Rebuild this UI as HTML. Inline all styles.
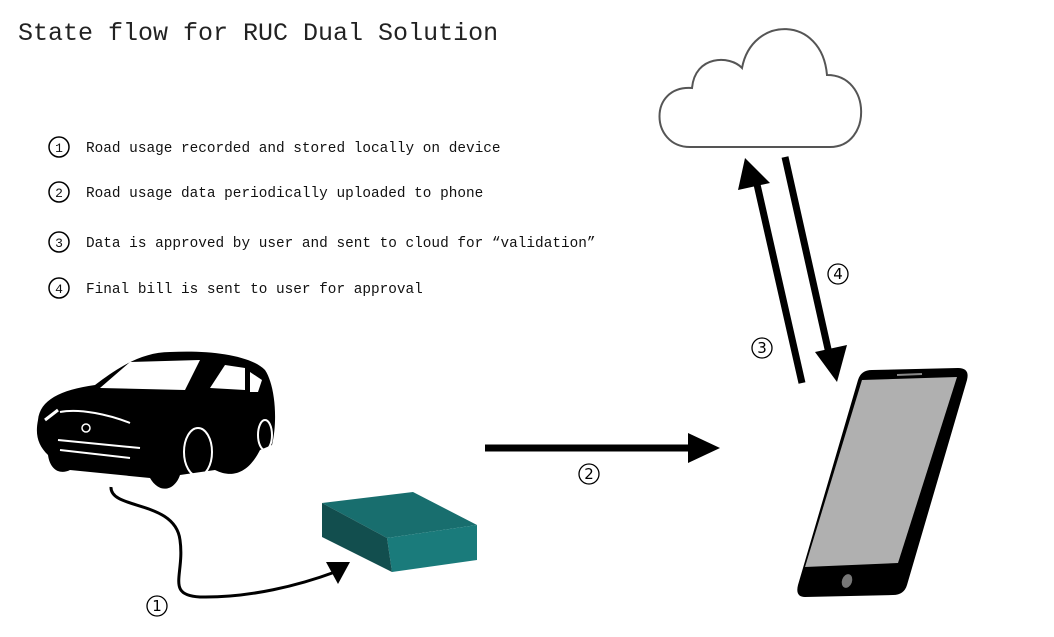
<!DOCTYPE html>
<html><head><style>
body{margin:0;background:#fff;width:1054px;height:632px;overflow:hidden;font-family:"Liberation Mono","DejaVu Sans Mono",monospace;}
</style></head><body>
<svg width="1054" height="632" viewBox="0 0 1054 632" xmlns="http://www.w3.org/2000/svg">
<text x="18" y="40" font-size="25" fill="#222" font-family="Liberation Mono, monospace">State flow for RUC Dual Solution</text>
<g font-size="14.4" fill="#111" font-family="Liberation Mono, monospace">
<circle cx="59" cy="147" r="10" fill="none" stroke="#000" stroke-width="1.5"/><text x="59" y="152" font-size="13" text-anchor="middle">1</text>
<text x="86" y="152">Road usage recorded and stored locally on device</text>
<circle cx="59" cy="192" r="10" fill="none" stroke="#000" stroke-width="1.5"/><text x="59" y="197" font-size="13" text-anchor="middle">2</text>
<text x="86" y="197">Road usage data periodically uploaded to phone</text>
<circle cx="59" cy="242" r="10" fill="none" stroke="#000" stroke-width="1.5"/><text x="59" y="247" font-size="13" text-anchor="middle">3</text>
<text x="86" y="247">Data is approved by user and sent to cloud for “validation”</text>
<circle cx="59" cy="288" r="10" fill="none" stroke="#000" stroke-width="1.5"/><text x="59" y="293" font-size="13" text-anchor="middle">4</text>
<text x="86" y="293">Final bill is sent to user for approval</text>
</g>
<!-- cloud -->
<path d="M690,147 C650,147 648,85 692,88 C695,55 730,55 742,68 C752,15 822,15 827,75 C872,75 872,147 830,147 Z" fill="#fff" stroke="#555" stroke-width="2"/>
<!-- arrows 3,4 -->
<line x1="802" y1="383" x2="756" y2="180" stroke="#000" stroke-width="7"/>
<polygon points="745,158 738,190 770,183" fill="#000"/>
<line x1="785" y1="157" x2="830" y2="358" stroke="#000" stroke-width="7"/>
<polygon points="837,382 815,352 847,345" fill="#000"/>
<g font-size="15" text-anchor="middle" font-family="DejaVu Sans, sans-serif">
<circle cx="838" cy="274" r="10" fill="none" stroke="#000" stroke-width="1.3"/><text x="838" y="279">4</text>
<circle cx="762" cy="348" r="10" fill="none" stroke="#000" stroke-width="1.3"/><text x="762" y="353">3</text>
<circle cx="589" cy="474" r="10" fill="none" stroke="#000" stroke-width="1.3"/><text x="589" y="479">2</text>
<circle cx="157" cy="606" r="10" fill="none" stroke="#000" stroke-width="1.3"/><text x="157" y="611">1</text>
</g>
<!-- arrow 2 -->
<line x1="485" y1="448" x2="690" y2="448" stroke="#000" stroke-width="7"/>
<polygon points="720,448 688,433 688,463" fill="#000"/>
<!-- phone -->
<path d="M872,370 L958,368 Q970,368 967,380 L907,585 Q904,595 893,595 L805,597 Q795,597 798,585 L858,380 Q861,370 872,370 Z" fill="#000"/>
<path d="M862,380 L957,377 L898,563 L805,567 Z" fill="#b0b0b0"/>
<line x1="897" y1="375" x2="922" y2="374" stroke="#888" stroke-width="2"/>
<ellipse cx="847" cy="581" rx="5" ry="7" transform="rotate(20 847 581)" fill="#777"/>
<!-- wire -->
<path d="M111,487 C110,510 175,500 180,540 C185,575 165,595 200,597 C250,598 300,585 335,572" fill="none" stroke="#000" stroke-width="3"/>
<polygon points="350,562 326,562 338,584" fill="#000"/>
<!-- box -->
<polygon points="322,503 413,492 477,525 387,538" fill="#186e6e"/>
<polygon points="387,538 477,525 477,560 392,572" fill="#1a7b7b"/>
<polygon points="322,503 387,538 392,572 322,537" fill="#124e4e"/>
<!-- car -->
<path d="M38,420 C40,400 60,390 95,385 C115,370 140,352 170,352 C210,350 250,355 265,370 C275,385 278,420 272,445 L260,450 C250,470 235,480 215,470 L180,475 C175,490 160,495 150,478 L70,470 C60,475 50,470 48,455 C38,445 35,435 38,420 Z" fill="#000"/>
<path d="M100,388 L130,362 L200,360 L185,390 Z" fill="#fff"/>
<path d="M210,388 L225,365 L245,368 L245,390 Z" fill="#fff"/>
<path d="M250,372 L262,380 L258,392 L250,392 Z" fill="#fff"/>
<ellipse cx="198" cy="452" rx="14" ry="24" fill="none" stroke="#fff" stroke-width="2"/>
<ellipse cx="265" cy="435" rx="7" ry="15" fill="none" stroke="#fff" stroke-width="2"/>
<path d="M60,412 C80,408 110,415 130,423" fill="none" stroke="#fff" stroke-width="2"/>
<path d="M58,440 L140,448" stroke="#fff" stroke-width="2"/>
<path d="M60,450 L130,458" stroke="#fff" stroke-width="2"/>
<path d="M45,420 L58,410" stroke="#fff" stroke-width="3"/>
<circle cx="86" cy="428" r="4" fill="none" stroke="#fff" stroke-width="1.5"/>
</svg>
</body></html>
